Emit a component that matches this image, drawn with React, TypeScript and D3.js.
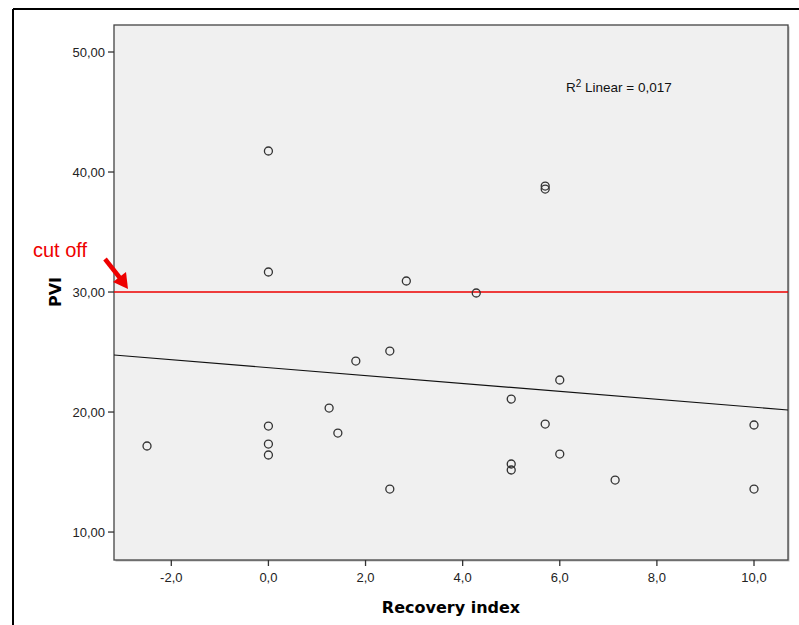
import React from "react";
import * as d3 from "d3";

const recoveryIndex = [-2.5, 0, 0, 0, 0, 0, 1.25, 1.43, 1.8, 2.5, 2.5, 2.84, 4.28, 5.0, 5.0, 5.0, 5.7, 5.7, 5.7, 6.0, 6.0, 7.14, 10.0, 10.0];
const pvi = [17.17, 41.75, 31.67, 18.83, 17.33, 16.42, 20.33, 18.25, 24.25, 25.08, 13.58, 30.92, 29.92, 21.08, 15.67, 15.17, 38.83, 38.58, 19.0, 22.67, 16.5, 14.33, 18.92, 13.58];
const xTicks = [-2, 0, 2, 4, 6, 8, 10];
const yTicks = [10, 20, 30, 40, 50];
const fitIntercept = 23.7;
const fitSlope = -0.33;
const cutOff = 30;
const r2Value = "0,017";

const W = 799;
const H = 625;
const plot = { left: 114, top: 25, right: 788, bottom: 560 };

export default function App() {
  const x = d3.scaleLinear().domain([-3.18, 10.7]).range([plot.left, plot.right]);
  const y = d3.scaleLinear().domain([7.67, 52.25]).range([plot.bottom, plot.top]);
  const fmtX = (v: number) => d3.format(".1f")(v).replace(".", ",").replace("\u2212", "-");
  const fmtY = (v: number) => d3.format(".2f")(v).replace(".", ",");
  const [x0, x1] = x.domain();
  const line = d3.line<number>().x((d) => x(d)).y((d) => y(fitIntercept + fitSlope * d));
  const font = "'Liberation Sans', Arial, sans-serif";

  return (
    <svg width={W} height={H} style={{ position: "absolute", left: 0, top: 0, background: "#fff" }} fontFamily={font}>
      <defs>
        <clipPath id="clip">
          <rect x={plot.left} y={plot.top} width={plot.right - plot.left} height={plot.bottom - plot.top} />
        </clipPath>
      </defs>
      {/* outer frame */}
      <line x1={13} y1={9} x2={W} y2={9} stroke="#000" strokeWidth={2} />
      <line x1={13} y1={9} x2={13} y2={H} stroke="#000" strokeWidth={2} />

      {/* plot area */}
      <rect x={plot.left + 1.5} y={plot.top + 1.5} width={plot.right - plot.left} height={plot.bottom - plot.top} fill="#bdbdbd" />
      <rect x={plot.left} y={plot.top} width={plot.right - plot.left} height={plot.bottom - plot.top} fill="#f0f0f0" stroke="#444" strokeWidth={1.3} />

      {/* y ticks */}
      {yTicks.map((t) => (
        <g key={"y" + t}>
          <line x1={plot.left - 6} x2={plot.left} y1={y(t)} y2={y(t)} stroke="#333" strokeWidth={1.3} />
          <text x={plot.left - 9} y={y(t)} dy="0.35em" textAnchor="end" fontSize={13} fill="#222">{fmtY(t)}</text>
        </g>
      ))}
      {/* x ticks */}
      {xTicks.map((t) => (
        <g key={"x" + t}>
          <line x1={x(t)} x2={x(t)} y1={plot.bottom} y2={plot.bottom + 6} stroke="#333" strokeWidth={1.3} />
          <text x={x(t)} y={plot.bottom + 22} textAnchor="middle" fontSize={13} fill="#222">{fmtX(t)}</text>
        </g>
      ))}

      <g clipPath="url(#clip)">
        {/* fit line */}
        <path d={line([x0, x1]) || ""} stroke="#111" strokeWidth={1.1} fill="none" />
        {/* cut off line */}
        <line x1={plot.left} x2={plot.right} y1={y(cutOff)} y2={y(cutOff)} stroke="#ee0000" strokeWidth={1.6} />
        {/* points */}
        {recoveryIndex.map((v, i) => (
          <circle key={i} cx={x(v)} cy={y(pvi[i])} r={4} fill="none" stroke="#333" strokeWidth={1.3} />
        ))}
      </g>

      {/* R2 annotation */}
      <text x={566} y={92} fontSize={13.5} fill="#111">
        R<tspan dy={-5} fontSize={10}>2</tspan><tspan dy={5}> Linear = {r2Value}</tspan>
      </text>

      {/* axis titles */}
      <text x={451} y={613} textAnchor="middle" fontSize={16} fontWeight="bold" fontFamily="'DejaVu Sans', Verdana, sans-serif" fill="#000">Recovery index</text>
      <text transform={`translate(61, ${y(30)}) rotate(-90)`} textAnchor="middle" fontSize={16} fontWeight="bold" fontFamily="'DejaVu Sans', Verdana, sans-serif" fill="#000">PVI</text>

      {/* cut off annotation */}
      <text x={33} y={257} fontSize={20} fill="#ee0000">cut off</text>
      <line x1={105} y1={259} x2={120} y2={278} stroke="#ee0000" strokeWidth={4.5} />
      <path d="M 113 282 L 128 289 L 126 272 Z" fill="#ee0000" />
    </svg>
  );
}
